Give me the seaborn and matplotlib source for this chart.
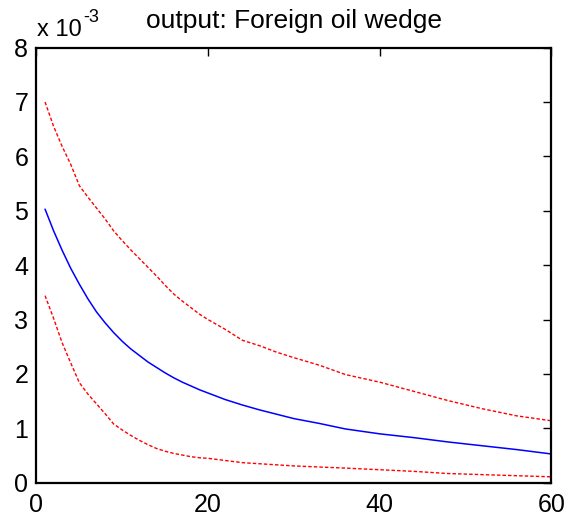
import matplotlib
matplotlib.use("Agg")
import matplotlib.pyplot as plt
import seaborn as sns
import pandas as pd

periods = [1, 2, 3, 4, 5, 6, 7, 8, 9, 10, 11, 12, 13, 14, 15, 16, 17, 18, 19, 20,
           22, 24, 26, 28, 30, 33, 36, 40, 44, 48, 52, 56, 60]
median = [5.03, 4.63, 4.27, 3.94, 3.65, 3.38, 3.14, 2.94, 2.76, 2.60, 2.46, 2.34,
          2.22, 2.12, 2.02, 1.93, 1.85, 1.78, 1.71, 1.65, 1.53, 1.43, 1.34, 1.26,
          1.18, 1.09, 0.99, 0.90, 0.83, 0.75, 0.68, 0.61, 0.53]
upper = [7.00, 6.55, 6.18, 5.85, 5.46, 5.25, 5.05, 4.85, 4.63, 4.45, 4.28, 4.12,
         3.96, 3.80, 3.63, 3.47, 3.34, 3.22, 3.10, 3.00, 2.82, 2.62, 2.52, 2.40,
         2.30, 2.16, 1.99, 1.85, 1.68, 1.51, 1.36, 1.23, 1.14]
lower = [3.44, 3.02, 2.57, 2.20, 1.84, 1.63, 1.45, 1.27, 1.08, 0.97, 0.87, 0.78,
         0.70, 0.63, 0.58, 0.54, 0.51, 0.48, 0.46, 0.45, 0.41, 0.37, 0.35, 0.33,
         0.31, 0.29, 0.27, 0.24, 0.21, 0.17, 0.15, 0.13, 0.11]
xticks = [0, 20, 40, 60]
yticks = [0, 1, 2, 3, 4, 5, 6, 7, 8]
title = "output: Foreign oil wedge"

sns.set_style("white")
plt.rcParams["font.family"] = ["Liberation Sans", "DejaVu Sans"]
plt.rcParams["text.color"] = "black"

df = pd.DataFrame({"period": periods, "median": median, "upper": upper, "lower": lower})

fig = plt.figure(figsize=(5.79, 5.25), dpi=100)
ax = fig.add_axes([0.063, 0.0804, 0.889, 0.829])

sns.lineplot(data=df, x="period", y="upper", ax=ax, color="#ff0000", lw=1.0,
             linestyle=(0, (2.5, 1.5)))
sns.lineplot(data=df, x="period", y="lower", ax=ax, color="#ff0000", lw=1.0,
             linestyle=(0, (2.5, 1.5)))
sns.lineplot(data=df, x="period", y="median", ax=ax, color="#0000ff", lw=1.1)

ax.set_xlim(0, 60)
ax.set_ylim(0, 8)
ax.set_xticks(xticks)
ax.set_yticks(yticks)
ax.set_xlabel("")
ax.set_ylabel("")
ax.tick_params(direction="in", length=6, width=1, top=True, right=True,
               labelsize=18, colors="black", labelcolor="black")
ax.tick_params(axis="x", pad=7)
ax.tick_params(axis="y", pad=6)
for s in ax.spines.values():
    s.set_visible(True)
    s.set_color("black")
    s.set_linewidth(1.6)

fig.text(0.507, 0.9467, title, fontsize=19, ha="center", va="baseline", color="black")
fig.text(0.064, 0.931, "x 10", fontsize=17, ha="left", va="baseline", color="black")
fig.text(0.1434, 0.958, "-3", fontsize=13, ha="left", va="baseline", color="black")

fig.savefig("out.png", dpi=100, facecolor="white")
